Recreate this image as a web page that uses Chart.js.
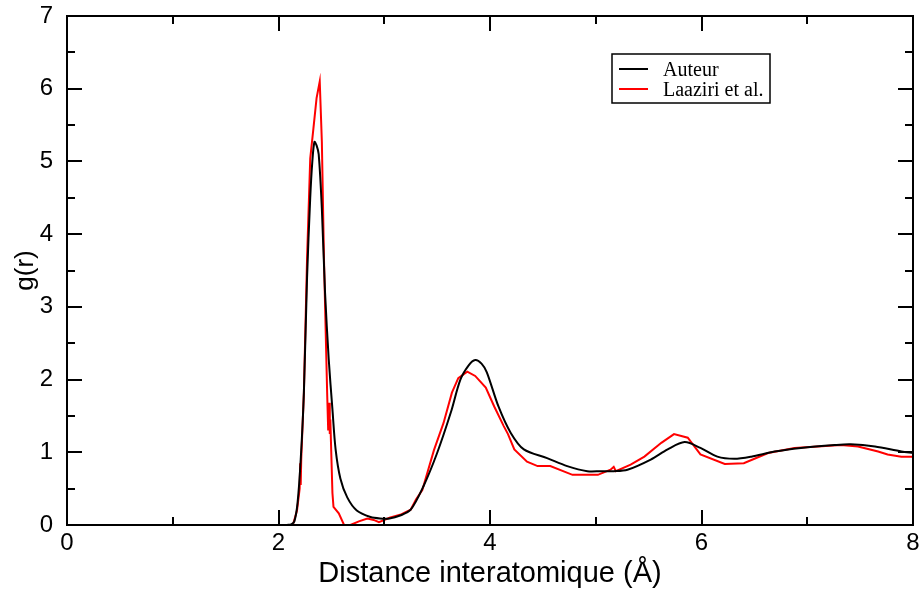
<!DOCTYPE html>
<html>
<head>
<meta charset="utf-8">
<script src="https://cdn.jsdelivr.net/npm/chart.js@4.4.1/dist/chart.umd.min.js"></script>
<style>
  html, body { margin: 0; padding: 0; background: #fff; }
  #wrap { width: 921px; height: 591px; }
</style>
</head>
<body>
<div id="wrap"><canvas id="gr" width="921" height="591"></canvas></div>
<script>
// g(r)
const autR = [2.08, 2.12, 2.15, 2.18, 2.21, 2.24, 2.27, 2.30, 2.32, 2.34, 2.36, 2.38, 2.41, 2.44, 2.475, 2.51, 2.54, 2.585, 2.65, 2.74, 2.87, 2.96, 3.05, 3.15, 3.25, 3.37, 3.50, 3.63, 3.72, 3.80, 3.86, 3.92, 3.97, 4.08, 4.195, 4.32, 4.54, 4.73, 4.92, 5.05, 5.17, 5.30, 5.52, 5.68, 5.84, 5.99, 6.15, 6.31, 6.47, 6.69, 6.94, 7.26, 7.41, 7.64, 7.89, 8.0];
const autG = [0, 0.01, 0.05, 0.3, 0.9, 1.82, 3.4, 4.5, 5.0, 5.27, 5.22, 5.1, 4.35, 3.2, 2.28, 1.59, 1.04, 0.64, 0.38, 0.2, 0.11, 0.09, 0.09, 0.13, 0.21, 0.53, 0.99, 1.55, 2.0, 2.2, 2.27, 2.22, 2.1, 1.63, 1.27, 1.04, 0.92, 0.81, 0.74, 0.74, 0.74, 0.76, 0.9, 1.04, 1.14, 1.06, 0.94, 0.91, 0.94, 1.01, 1.06, 1.10, 1.11, 1.08, 1.01, 0.99];

const lazR = [2.14, 2.175, 2.20, 2.205, 2.21, 2.215, 2.24, 2.27, 2.30, 2.33, 2.36, 2.39, 2.41, 2.43, 2.46, 2.47, 2.48, 2.485, 2.49, 2.51, 2.52, 2.57, 2.62, 2.68, 2.76, 2.84, 2.90, 2.95, 3.05, 3.15, 3.25, 3.30, 3.36, 3.47, 3.56, 3.64, 3.70, 3.785, 3.86, 3.96, 4.04, 4.13, 4.17, 4.23, 4.35, 4.45, 4.57, 4.78, 5.02, 5.14, 5.17, 5.19, 5.33, 5.46, 5.62, 5.74, 5.87, 5.99, 6.22, 6.40, 6.63, 6.88, 7.10, 7.32, 7.48, 7.67, 7.76, 7.89, 8.0];
const lazG = [0.02, 0.2, 0.5, 0.85, 0.55, 0.9, 1.82, 3.66, 5.04, 5.45, 5.87, 6.10, 5.27, 3.66, 1.82, 1.3, 1.68, 1.25, 1.45, 0.44, 0.25, 0.16, 0, 0, 0.05, 0.09, 0.07, 0.04, 0.1, 0.14, 0.21, 0.35, 0.48, 1.03, 1.4, 1.82, 2.02, 2.11, 2.05, 1.89, 1.63, 1.36, 1.25, 1.04, 0.87, 0.81, 0.81, 0.69, 0.69, 0.76, 0.8, 0.74, 0.83, 0.94, 1.13, 1.25, 1.20, 0.97, 0.84, 0.85, 0.99, 1.06, 1.08, 1.10, 1.08, 1.01, 0.97, 0.94, 0.94];

const xMajor = [0, 2, 4, 6, 8];
const xMinor = [1, 3, 5, 7];
const yMajor = [0, 1, 2, 3, 4, 5, 6, 7];
const yMinor = [0.5, 1.5, 2.5, 3.5, 4.5, 5.5, 6.5];

const seriesNames = ['Auteur', 'Laaziri et al.'];
const seriesColors = ['#000000', '#ff0000'];

const toPoints = (rs, gs) => rs.map((r, i) => ({ x: r, y: gs[i] }));

// inward ticks on all four sides + frame, like xmgrace
const frameTicks = {
  id: 'frameTicks',
  afterDatasetsDraw(chart) {
    const { ctx, chartArea: a, scales: { x, y } } = chart;
    ctx.save();
    ctx.strokeStyle = '#000';
    ctx.lineWidth = 2;
    ctx.beginPath();
    const vTick = (v, len) => {
      const px = Math.round(x.getPixelForValue(v));
      ctx.moveTo(px, a.bottom); ctx.lineTo(px, a.bottom - len);
      ctx.moveTo(px, a.top); ctx.lineTo(px, a.top + len);
    };
    const hTick = (v, len) => {
      const py = Math.round(y.getPixelForValue(v));
      ctx.moveTo(a.left, py); ctx.lineTo(a.left + len, py);
      ctx.moveTo(a.right, py); ctx.lineTo(a.right - len, py);
    };
    xMajor.forEach(v => vTick(v, 15));
    xMinor.forEach(v => vTick(v, 8));
    yMajor.forEach(v => hTick(v, 15));
    yMinor.forEach(v => hTick(v, 8));
    ctx.stroke();
    ctx.strokeRect(a.left, a.top, a.right - a.left, a.bottom - a.top);
    ctx.restore();
  }
};

// boxed legend in the upper right
const boxLegend = {
  id: 'boxLegend',
  afterDraw(chart) {
    const ctx = chart.ctx;
    ctx.save();
    ctx.fillStyle = '#fff';
    ctx.fillRect(612, 54, 158, 49);
    ctx.strokeStyle = '#000';
    ctx.lineWidth = 1.5;
    ctx.strokeRect(612, 54, 158, 49);
    ctx.font = '20px "Liberation Serif", "Times New Roman", serif';
    ctx.textBaseline = 'alphabetic';
    seriesNames.forEach((name, i) => {
      const ly = 69 + i * 20;
      ctx.strokeStyle = seriesColors[i];
      ctx.lineWidth = 2;
      ctx.beginPath();
      ctx.moveTo(619, ly); ctx.lineTo(648, ly);
      ctx.stroke();
      ctx.fillStyle = '#000';
      ctx.fillText(name, 663, ly + 7);
    });
    ctx.restore();
  }
};

const tickFont = { family: '"Liberation Sans", Arial, sans-serif', size: 24 };

new Chart(document.getElementById('gr'), {
  type: 'line',
  data: {
    datasets: [
      {
        label: seriesNames[0],
        data: toPoints(autR, autG),
        borderColor: seriesColors[0],
        borderWidth: 2,
        pointRadius: 0,
        tension: 0.3,
        fill: false,
      },
      {
        label: seriesNames[1],
        data: toPoints(lazR, lazG),
        borderColor: seriesColors[1],
        borderWidth: 2,
        pointRadius: 0,
        tension: 0,
        fill: false,
      },
    ],
  },
  options: {
    responsive: false,
    animation: false,
    parsing: false,
    layout: { padding: { top: 16, right: 8, left: 0, bottom: 0 } },
    plugins: { legend: { display: false }, tooltip: { enabled: false } },
    scales: {
      x: {
        type: 'linear',
        min: 0,
        max: 8,
        afterBuildTicks: s => { s.ticks = xMajor.map(v => ({ value: v })); },
        afterFit: s => { s.height = 66; s.paddingLeft = 0; s.paddingRight = 0; },
        grid: { display: false },
        border: { display: false },
        ticks: { color: '#000', font: tickFont, padding: -4, maxRotation: 0, autoSkip: false },
        title: {
          display: true,
          text: 'Distance interatomique (Å)',
          color: '#000',
          font: { family: '"Liberation Sans", Arial, sans-serif', size: 29 },
          padding: { top: 0, bottom: 0 },
        },
      },
      y: {
        type: 'linear',
        min: 0,
        max: 7,
        afterBuildTicks: s => { s.ticks = yMajor.map(v => ({ value: v })); },
        afterFit: s => { s.width = 67; s.paddingTop = 0; s.paddingBottom = 0; },
        grid: { display: false },
        border: { display: false },
        ticks: { color: '#000', font: tickFont, padding: 6, autoSkip: false },
        title: {
          display: true,
          text: 'g(r)',
          color: '#000',
          font: { family: '"Liberation Sans", Arial, sans-serif', size: 26 },
          padding: { top: 10, bottom: 0 },
        },
      },
    },
  },
  plugins: [frameTicks, boxLegend],
});
</script>
</body>
</html>
